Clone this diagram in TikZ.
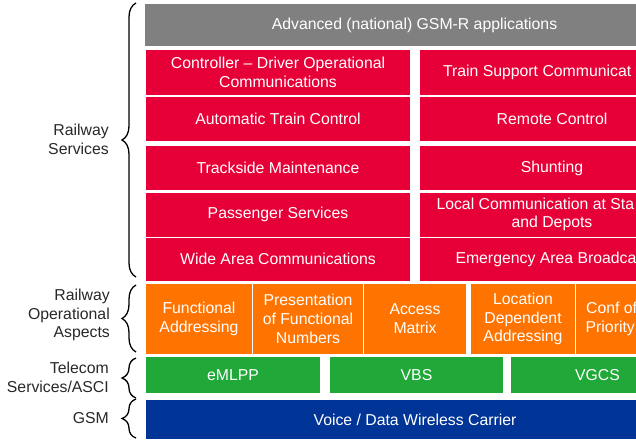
\documentclass[tikz,border=0pt]{standalone}
\usepackage{fontspec}
\setmainfont{Liberation Sans}
\usetikzlibrary{decorations.pathreplacing}
\definecolor{cgray}{RGB}{128,128,128}
\definecolor{cred}{RGB}{230,0,55}
\definecolor{corange}{RGB}{255,116,0}
\definecolor{cgreen}{RGB}{32,168,56}
\definecolor{cblue}{RGB}{0,52,150}
\definecolor{clabel}{RGB}{40,40,40}
\newcommand\boxfont{\fontsize{15.8}{18.8}\selectfont}
\tikzset{
  cell/.style={inner sep=0pt, outer sep=0pt, align=center, text=white, font=\boxfont},
  graycell/.style={cell, fill=cgray},
  redcell/.style={cell, fill=cred},
  orangecell/.style={cell, fill=corange},
  greencell/.style={cell, fill=cgreen},
  bluecell/.style={cell, fill=cblue},
  lbl/.style={anchor=east, inner sep=0pt, align=right, text=clabel, font=\boxfont},
  bracket/.style={draw=black, line width=1.3pt, decorate, decoration={brace, amplitude=14pt}},
}
\begin{document}
\begin{tikzpicture}[x=1pt, y=-1pt]
\useasboundingbox (0,0) rectangle (636,445);
\clip (0,0) rectangle (636,445);
% header
\node[graycell, minimum width=539, minimum height=42] (hdr) at (414.5,25) {Advanced (national) GSM-R applications};
% railway services, left column
\node[redcell, minimum width=264, minimum height=45] (r1l) at (278,72.5) {Controller – Driver Operational\\Communications};
\node[redcell, minimum width=264, minimum height=44.5] (r2l) at (278,118.75) {Automatic Train Control};
\node[redcell, minimum width=264, minimum height=44] (r3l) at (278,168) {Trackside Maintenance};
\node[redcell, minimum width=264, minimum height=44] (r4l) at (278,214.5) {Passenger Services};
\node[redcell, minimum width=264, minimum height=43.5] (r5l) at (278,259.25) {Wide Area Communications};
% railway services, right column
\node[redcell, minimum width=264, minimum height=45] (r1r) at (552,72.5) {\makebox[218pt][l]{Train Support Communicat}};
\node[redcell, minimum width=264, minimum height=44.5] (r2r) at (552,118.75) {Remote Control};
\node[redcell, minimum width=264, minimum height=44] (r3r) at (552,168) {Shunting};
\node[redcell, minimum width=264, minimum height=44] (r4r) at (552,214.5) {\makebox[231pt][l]{Local Communication at Sta}\\and Depots};
\node[redcell, minimum width=264, minimum height=43.5] (r5r) at (552,259.25) {\makebox[193pt][l]{Emergency Area Broadca}};
% railway operational aspects
\node[orangecell, minimum width=106, minimum height=70] (o1) at (199,319) {Functional\\Addressing};
\node[orangecell, minimum width=110, minimum height=70] (o2) at (308,319) {Presentation\\of Functional\\Numbers};
\node[orangecell, minimum width=102, minimum height=70] (o3) at (415,319) {Access\\Matrix};
\node[orangecell, minimum width=104, minimum height=70] (o4) at (523,319) {Location\\Dependent\\Addressing};
\node[orangecell, minimum width=108, minimum height=70] (o5) at (630,319) {\makebox[87.8pt][l]{Conf of}\\\makebox[88.7pt][l]{Priority}};
% telecom services
\node[greencell, minimum width=174, minimum height=36] (g1) at (233,375) {eMLPP};
\node[greencell, minimum width=173, minimum height=36] (g2) at (416.5,375) {VBS};
\node[greencell, minimum width=173, minimum height=36] (g3) at (597.5,375) {VGCS};
% gsm
\node[bluecell, minimum width=538, minimum height=39] (gsm) at (415,419.5) {Voice / Data Wireless Carrier};
% labels
\node[lbl] (lrs) at (109,139) {Railway\\Services};
\node[lbl] (lroa) at (110,315) {Railway\\Operational\\Aspects};
\node[lbl] (ltel) at (109,377) {Telecom\\Services/ASCI};
\node[lbl] (lgsm) at (109,418) {GSM};
% braces
\coordinate (brsT) at (136,3);
\coordinate (brsB) at (136,277);
\coordinate (broT) at (136,285);
\coordinate (broB) at (136,352);
\coordinate (btlT) at (136,358);
\coordinate (btlB) at (136,398);
\coordinate (bgsT) at (136,399);
\coordinate (bgsB) at (136,438);
\draw[bracket] (brsB) -- (brsT);
\draw[bracket] (broB) -- (broT);
\draw[bracket] (btlB) -- (btlT);
\draw[bracket] (bgsB) -- (bgsT);
\end{tikzpicture}
\end{document}
